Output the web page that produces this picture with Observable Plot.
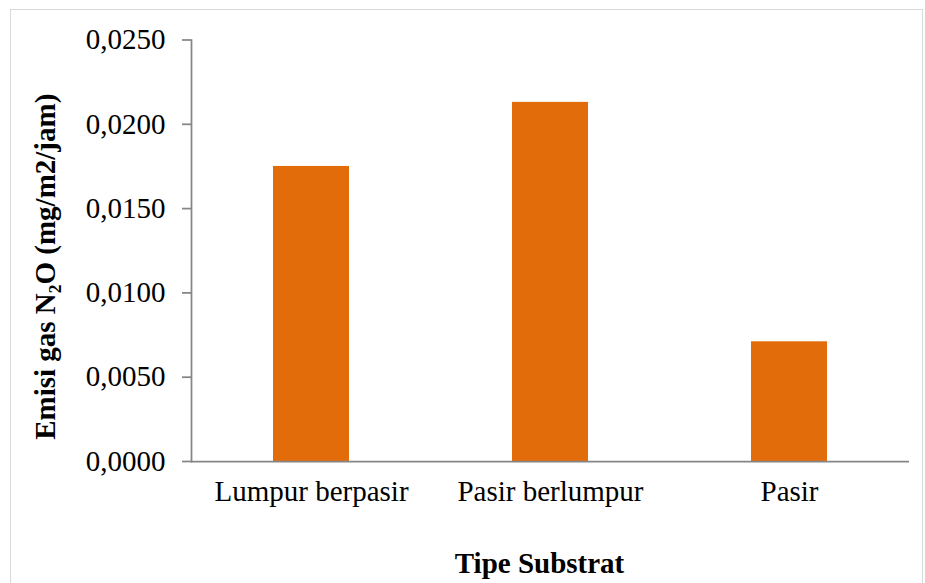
<!DOCTYPE html>
<html>
<head>
<meta charset="utf-8">
<script src="https://cdn.jsdelivr.net/npm/d3@7"></script>
<script src="https://cdn.jsdelivr.net/npm/@observablehq/plot@0.6"></script>
<style>
  html, body { margin: 0; padding: 0; background: #fff; overflow: hidden; }
  #wrap { position: relative; width: 925px; height: 583px; }
  #border { position: absolute; left: 10px; top: 9px; width: 913px; height: 700px; border: 1.5px solid #d9d9d9; box-sizing: border-box; pointer-events: none; }
</style>
</head>
<body>
<div id="wrap"><div id="border"></div></div>
<script>
const categories = ["Lumpur berpasir", "Pasir berlumpur", "Pasir"];
const values = [0.0175, 0.0213, 0.0071];
const yTicks = [0, 0.005, 0.010, 0.015, 0.020, 0.025];
const xTitle = "Tipe Substrat";
const yTitle = "Emisi gas N₂O (mg/m2/jam)";

const data = categories.map((c, i) => ({ cat: c, val: values[i] }));
const fmt = d => d3.format(".4f")(d).replace(".", ",");
const font = "'Liberation Serif', 'Times New Roman', serif";
const axisColor = "#868686";

const chart = Plot.plot({
  width: 925,
  height: 583,
  marginTop: 39.5,
  marginBottom: 122,
  marginLeft: 191,
  marginRight: 16,
  style: { fontFamily: font, fontSize: "29px", color: "#000", background: "transparent" },
  x: { domain: categories, paddingInner: 0.68, paddingOuter: 0.34, label: null },
  y: { domain: [0, 0.025], label: null },
  marks: [
    Plot.barY(data, { x: "cat", y: "val", fill: "#E36C0A" }),
    Plot.axisY({ ticks: yTicks, tickFormat: fmt, tickSize: 9, tickPadding: 17, stroke: axisColor, strokeWidth: 1.75, fill: "#000", fontSize: 29, label: null }),
    Plot.axisX({ tickSize: 0, tickPadding: 19, fill: "#000", fontSize: 29, label: null }),
    Plot.frame({ anchor: "left", stroke: axisColor, strokeWidth: 1.75 }),
    Plot.ruleY([0], { stroke: axisColor, strokeWidth: 1.75 }),
    Plot.text([xTitle], { frameAnchor: "bottom", dx: -11, dy: 111, lineAnchor: "bottom", fontWeight: "bold", fontSize: 29, fill: "#000" }),
    Plot.text([yTitle], { frameAnchor: "left", rotate: -90, dx: -146, dy: 16, textAnchor: "middle", fontWeight: "bold", fontSize: 29, fill: "#000" })
  ]
});
document.getElementById("wrap").prepend(chart);
</script>
</body>
</html>
